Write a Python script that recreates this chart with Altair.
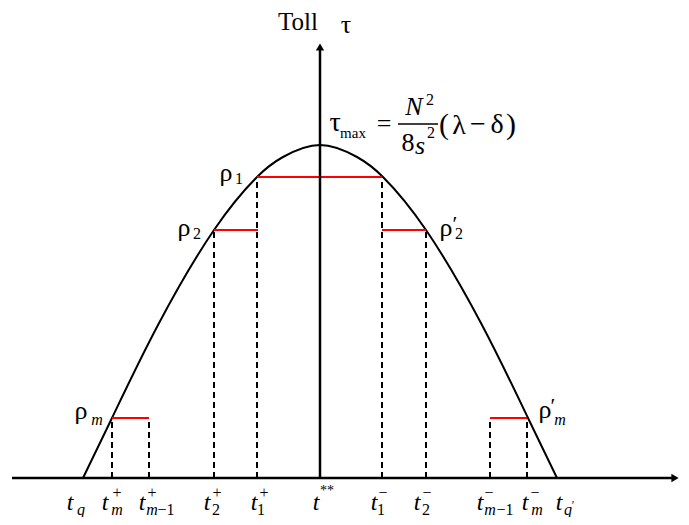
import altair as alt
import pandas as pd

# ---------------- data ----------------
# x: time measured from t**, y: toll level (arbitrary units)
curve_t = [-237, -208, -162, -106, -63, -37, 0,
           37, 63, 106, 162, 208, 237]
curve_toll = [0, 60, 153, 248, 301, 321, 333,
              321, 301, 248, 153, 60, 0]

# red toll steps: start time, end time, toll level
seg_start = [-63, -106, 62, -208, 170]
seg_end = [62, -62, 106, -171, 207]
seg_level = [301, 248, 248, 60, 60]

# dashed drops: time, toll level
drop_t = [-208, -171, -106, -63, 62, 106, 170, 207]
drop_level = [60, 60, 248, 301, 301, 248, 60, 60]

# text pieces: text, x, y, font size, italic
txt = ["t", "q",
       "t", "+", "m",
       "t", "+", "m", "\u22121",
       "t", "+", "2",
       "t", "+", "1",
       "t", "**",
       "t", "\u2212", "1",
       "t", "\u2212", "2",
       "t", "\u2212", "m", "\u22121",
       "t", "\u2212", "m",
       "t", "q", "\u2032",
       "\u03c1", "1",
       "\u03c1", "2",
       "\u03c1", "m",
       "\u03c1", "\u2032", "2",
       "\u03c1", "\u2032", "m",
       "Toll", "\u03c4",
       "\u03c4", "max", "=", "N", "2", "8", "s", "2",
       "(", "\u03bb", "\u2212", "\u03b4", ")"]
txt_x = [-250, -239,
         -215, -203, -203,
         -178, -168, -168, -154,
         -113, -103, -104,
         -66, -56, -59,
         -4, 7,
         54, 63, 61,
         97, 107, 106,
         160, 169, 170, 185,
         205, 215, 217,
         239, 248, 253,
         -94, -81,
         -136, -123,
         -239, -223,
         126, 135, 139,
         225, 233, 240,
         -22, 26,
         15, 33, 64, 94, 110, 88, 100, 111,
         124, 139, 158, 177, 191]
txt_y = [-25, -32,
         -25, -15, -32,
         -25, -15, -32, -32,
         -25, -15, -32,
         -25, -15, -32,
         -25, -13,
         -25, -15, -32,
         -25, -15, -32,
         -25, -15, -32, -32,
         -25, -15, -32,
         -25, -32, -27,
         305, 299,
         250, 244,
         67, 58,
         250, 254, 244,
         68, 72, 58,
         456, 453,
         355, 345, 354, 371, 378, 335, 332, 345,
         353, 352, 353, 353, 353]
txt_size = [24, 16,
            24, 16, 16,
            24, 16, 16, 16,
            24, 16, 16,
            24, 16, 16,
            24, 14,
            24, 16, 16,
            24, 16, 16,
            24, 16, 16, 16,
            24, 16, 16,
            24, 16, 12,
            26, 16,
            26, 16,
            26, 16,
            26, 22, 16,
            26, 22, 16,
            25, 26,
            28, 15, 26, 26, 16, 26, 26, 16,
            30, 28, 28, 28, 30]
txt_italic = [True, True,
              True, False, True,
              True, False, True, False,
              True, False, False,
              True, False, False,
              True, False,
              True, False, False,
              True, False, False,
              True, False, True, False,
              True, False, True,
              True, True, False,
              False, False,
              False, False,
              False, True,
              False, False, False,
              False, False, True,
              False, False,
              False, False, False, True, False, False, True, False,
              False, False, False, False, False]

# fraction bar of the formula
bar_x = [78]
bar_x2 = [118]
bar_y = [354]

# ---------------- tables ----------------
curve = pd.DataFrame({"t": curve_t, "toll": curve_toll,
                      "o": list(range(len(curve_t)))})
segs = pd.DataFrame({"x": seg_start, "x2": seg_end, "y": seg_level})
drops = pd.DataFrame({"x": drop_t, "y": [0] * len(drop_t), "y2": drop_level})
texts = pd.DataFrame({"label": txt, "x": txt_x, "y": txt_y,
                      "size": txt_size, "italic": txt_italic})
xaxis = pd.DataFrame({"x": [-308], "x2": [352], "y": [0]})
yaxis = pd.DataFrame({"x": [0], "y": [0], "y2": [428]})
arrow_r = pd.DataFrame({"x": [355], "y": [0]})
arrow_u = pd.DataFrame({"x": [0], "y": [431]})
bar = pd.DataFrame({"x": bar_x, "x2": bar_x2, "y": bar_y})

XS = alt.Scale(domain=[-312, 361], nice=False, zero=False)
YS = alt.Scale(domain=[-39, 470], nice=False, zero=False)
FONT = "Liberation Serif, Times New Roman, serif"


def X(f="x"):
    return alt.X(f"{f}:Q", scale=XS, axis=None)


def Y(f="y"):
    return alt.Y(f"{f}:Q", scale=YS, axis=None)


x_line = alt.Chart(xaxis).mark_rule(color="black", strokeWidth=2.5).encode(
    x=X(), x2="x2:Q", y=Y())
y_line = alt.Chart(yaxis).mark_rule(color="black", strokeWidth=2.5).encode(
    x=X(), y=Y(), y2="y2:Q")
head_r = alt.Chart(arrow_r).mark_point(shape="triangle-right", filled=True,
                                       color="black", size=70, opacity=1).encode(x=X(), y=Y())
head_u = alt.Chart(arrow_u).mark_point(shape="triangle-up", filled=True,
                                       color="black", size=70, opacity=1).encode(x=X(), y=Y())

drop_layer = alt.Chart(drops).mark_rule(color="black", strokeWidth=2,
                                        strokeDash=[6, 4]).encode(
    x=X(), y=Y(), y2="y2:Q")
curve_layer = alt.Chart(curve).mark_line(color="black", strokeWidth=2,
                                         interpolate="natural").encode(
    x=X("t"), y=Y("toll"), order="o:Q")
seg_layer = alt.Chart(segs).mark_rule(color="#ff0000", strokeWidth=2).encode(
    x=X(), x2="x2:Q", y=Y())
bar_layer = alt.Chart(bar).mark_rule(color="black", strokeWidth=1.3).encode(
    x=X(), x2="x2:Q", y=Y())

text_up = alt.Chart(texts).transform_filter("!datum.italic").mark_text(
    font=FONT, align="center", baseline="middle", color="black").encode(
    x=X(), y=Y(), text="label:N", size=alt.Size("size:Q", scale=None))
text_it = alt.Chart(texts).transform_filter("datum.italic").mark_text(
    font=FONT, fontStyle="italic", align="center", baseline="middle",
    color="black").encode(
    x=X(), y=Y(), text="label:N", size=alt.Size("size:Q", scale=None))

chart = alt.layer(
    drop_layer, curve_layer, seg_layer, x_line, y_line, head_r, head_u,
    bar_layer, text_up, text_it
).properties(
    width=673, height=509, padding=0, autosize=alt.AutoSizeParams(type="none"),
    background="white"
).configure_view(stroke=None)

chart.save("out.html", embed_options={"renderer": "svg", "actions": False})
